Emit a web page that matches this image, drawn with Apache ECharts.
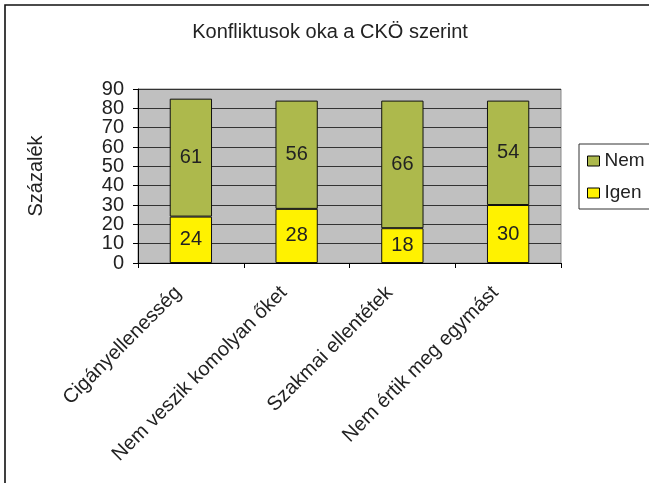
<!DOCTYPE html>
<html><head><meta charset="utf-8">
<script src="https://cdn.jsdelivr.net/npm/echarts@6/dist/echarts.min.js"></script>
<style>html,body{margin:0;padding:0;background:#fff}#c{width:649px;height:483px}</style>
</head><body><div id="c"></div>
<script>
const categories = ["Cigányellenesség", "Nem veszik komolyan őket", "Szakmai ellentétek", "Nem értik meg egymást"];
const igen = [24, 28, 18, 30];
const nem = [61, 56, 66, 54];
const yTicks = [0, 10, 20, 30, 40, 50, 60, 70, 80, 90];

const chart = echarts.init(document.getElementById('c'), null, {renderer: 'canvas'});
const F = '"Liberation Sans", Arial, sans-serif';
const evenTicks = yTicks.filter((t, i) => i % 2 === 0);
const oddTicks = yTicks.filter((t, i) => i % 2 === 1);
const yBase = {
  type: 'value', min: 0, max: 90, interval: 10, position: 'left', offset: 0,
  axisLabel: {fontSize: 20, color: '#222', fontFamily: F, margin: 14,
    showMinLabel: true, showMaxLabel: true, hideOverlap: false}
};
chart.setOption({
  animation: false,
  textStyle: {fontFamily: F},
  graphic: [{type: 'rect', shape: {x: 5, y: 5, width: 700, height: 600}, style: {fill: 'none', stroke: '#111', lineWidth: 1.6}, z: -1}],
  title: {text: 'Konfliktusok oka a CKÖ szerint', left: 325, textAlign: 'center', top: 17,
    textStyle: {fontFamily: F, fontSize: 20, fontWeight: 'normal', color: '#222'}},
  grid: {left: 138, top: 89, width: 423, height: 174, show: true, backgroundColor: '#c0c0c0', borderColor: '#8a8a8a', borderWidth: 1},
  legend: {
    orient: 'vertical', left: 579, top: 144,
    padding: [7, 6, 6, 8], itemGap: 12,
    borderColor: '#333', borderWidth: 1,
    itemWidth: 12, itemHeight: 10, icon: 'rect',
    data: ['Nem', 'Igen'],
    textStyle: {fontFamily: F, fontSize: 19, lineHeight: 20, color: '#222', width: 44},
    itemStyle: {borderColor: '#000', borderWidth: 1}
  },
  xAxis: {
    type: 'category', data: categories,
    axisLine: {lineStyle: {color: '#000'}},
    axisTick: {show: true, length: 5, lineStyle: {color: '#000'}},
    axisLabel: {rotate: 45, fontSize: 20, color: '#222', fontFamily: F, margin: 14, interval: 0, padding: [0, 18, 0, 0]},
    splitLine: {show: false}
  },
  yAxis: [
    Object.assign({}, yBase, {
      name: 'Százalék', nameLocation: 'middle', nameRotate: 90, nameGap: 92,
      nameTextStyle: {fontFamily: F, fontSize: 20, color: '#222'},
      axisLine: {show: true, lineStyle: {color: '#000'}},
      axisTick: {show: true, length: 5, lineStyle: {color: '#000'}},
      axisLabel: Object.assign({}, yBase.axisLabel, {formatter: v => evenTicks.includes(v) ? String(v) : ''}),
      splitLine: {show: true, lineStyle: {color: '#333', width: 1}}
    }),
    Object.assign({}, yBase, {
      axisLine: {show: false}, axisTick: {show: false}, splitLine: {show: false},
      axisLabel: Object.assign({}, yBase.axisLabel, {formatter: v => oddTicks.includes(v) ? String(v) : ''})
    })
  ],
  series: [
    {name: 'Igen', type: 'bar', stack: 's', data: igen, barWidth: '40%', yAxisIndex: 0,
      itemStyle: {color: '#fff200', borderColor: '#111', borderWidth: 1},
      label: {show: true, position: 'inside', fontSize: 20, color: '#222', fontFamily: F}},
    {name: 'Nem', type: 'bar', stack: 's', data: nem, barWidth: '40%', yAxisIndex: 0,
      itemStyle: {color: '#adb94c', borderColor: '#111', borderWidth: 1},
      label: {show: true, position: 'inside', fontSize: 20, color: '#222', fontFamily: F}}
  ]
});
</script></body></html>
